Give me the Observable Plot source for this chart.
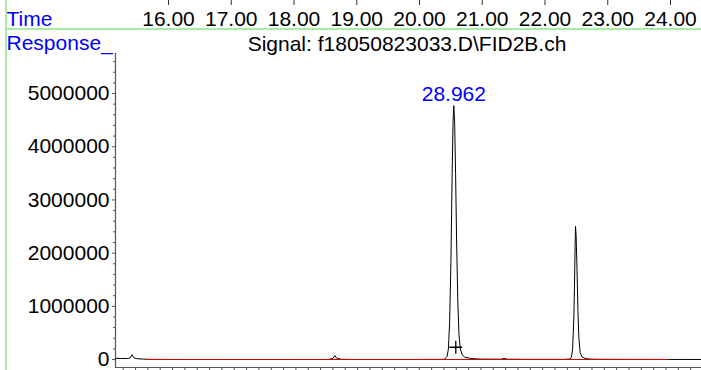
<!DOCTYPE html>
<html><head><meta charset="utf-8">
<script src="https://cdn.jsdelivr.net/npm/d3@7"></script>
<script src="https://cdn.jsdelivr.net/npm/@observablehq/plot@0.6"></script>
<style>
html,body{margin:0;padding:0;background:#fff;}
#wrap{position:relative;width:701px;height:370px;overflow:hidden;}
#wrap svg{position:absolute;left:0;top:0;}
.g{position:absolute;background:#a6eea6;z-index:2;}
</style></head><body>
<div id="wrap"></div>
<script>
// Trace (time in minutes, response counts)
const traceTime = [15.155,15.25,15.35,15.39,15.42,15.45,15.50,15.60,15.70,16.00,17.00,18.00,18.55,18.62,18.65,18.68,18.75,18.90,20.00,20.30,
  20.40,20.44,20.46,20.48,20.50,20.52,20.535,20.547,20.56,20.575,20.59,20.61,20.63,20.65,20.68,20.72,20.80,20.90,21.00,
  21.30,21.35,21.40,21.80,22.30,
  22.40,22.42,22.44,22.46,22.47,22.48,22.486,22.495,22.51,22.525,22.54,22.56,22.59,22.64,22.72,22.80,23.50,24.494];
const traceResponse = [22000,20000,20000,30000,90000,30000,15000,8000,3000,1000,500,500,1000,20000,75000,25000,5000,1000,1000,3000,
  5000,60000,200000,700000,1800000,3500000,4500000,4770000,4450000,3500000,2300000,1100000,450000,200000,90000,45000,22000,12000,8000,
  6000,20000,6000,3000,3000,
  10000,40000,200000,800000,1400000,2150000,2500000,2350000,1700000,900000,400000,130000,50000,20000,8000,5000,2000,1000];

const topTicks = [16,17,18,19,20,21,22,23,24];
const yTicks = [0,1000000,2000000,3000000,4000000,5000000];
const yMinorTicks = [200000,400000,600000,800000,1200000,1400000,1600000,1800000,2200000,2400000,2600000,2800000,
  3200000,3400000,3600000,3800000,4200000,4400000,4600000,4800000,5200000,5400000,5600000];
const bottomTickStart = 15.278, bottomTickStep = 0.1966, bottomTickCount = 47;
const bottomTicks = d3.range(bottomTickCount).map(i => bottomTickStart + i*bottomTickStep);

const peakLabel = {time: 20.547, response: 4770000, text: "28.962"};
const plusMarker = {time: 20.578, response: 231000};
const baselineStart = 15.633, baselineEnd = 23.97;
const xDomain = [15.155, 24.494];
const yDomain = [-150000, 5752000];

const trace = traceTime.map((t,i) => ({t, r: traceResponse[i]}));

const font = "'Liberation Sans', Arial, sans-serif";
const chart = Plot.plot({
  width: 701, height: 370,
  marginLeft: 115, marginRight: 0, marginTop: 53, marginBottom: 3,
  x: {domain: xDomain},
  y: {domain: yDomain},
  style: {fontFamily: font, fontSize: "21px", color: "black", background: "white", overflow: "visible"},
  marks: [
    // axes
    Plot.ruleX([xDomain[0]], {stroke: "#555", strokeWidth: 1.2}),
    Plot.ruleY([yDomain[0]], {stroke: "#555", strokeWidth: 1.2}),
    Plot.axisY(yTicks, {anchor: "left", tickSize: 3, tickPadding: 3, tickFormat: d => String(d), stroke: "#555", fill: "black"}),
    Plot.axisY(yMinorTicks, {anchor: "left", tickSize: 2, text: null, stroke: "#555"}),
    Plot.axisX(bottomTicks, {anchor: "bottom", tickSize: 3, text: null, stroke: "#555"}),
    Plot.axisX(topTicks, {anchor: "bottom", tickSize: 5, tickPadding: 6, dy: -367, tickFormat: d => d.toFixed(2), stroke: "#333", fill: "black"}),
    // trace
    Plot.line(trace, {x: "t", y: "r", stroke: "black", strokeWidth: 1}),
    Plot.ruleY([0], {x1: baselineStart, x2: baselineEnd, stroke: "#d40000", strokeWidth: 1.2}),
    Plot.dot([plusMarker], {x: "time", y: "response", symbol: "plus", r: 4.2, stroke: "black", strokeWidth: 1.3}),
    Plot.text([peakLabel], {x: "time", y: "response", text: "text", lineAnchor: "bottom", dy: -5, fill: "#0000ff"}),
    // header texts
    Plot.text(["Time"], {frameAnchor: "top-left", text: d => d, textAnchor: "start", lineAnchor: "bottom", dx: -109, dy: -28, fill: "#0000ff"}),
    Plot.text(["Response_"], {frameAnchor: "top-left", text: d => d, textAnchor: "start", lineAnchor: "bottom", dx: -109, dy: -3.5, fill: "#0000ff"}),
    Plot.text(["Signal: f18050823033.D\\FID2B.ch"], {frameAnchor: "top", text: d => d, lineAnchor: "bottom", dx: -1.5, dy: -3, fill: "black"})
  ]
});
const wrap = document.getElementById("wrap");
wrap.appendChild(chart);
const h = document.createElement("div"); h.className = "g";
h.style.cssText = "left:5px;top:28px;width:696px;height:2px";
const v = document.createElement("div"); v.className = "g";
v.style.cssText = "left:5px;top:0;width:2px;height:370px";
wrap.appendChild(h); wrap.appendChild(v);
</script>
</body></html>
